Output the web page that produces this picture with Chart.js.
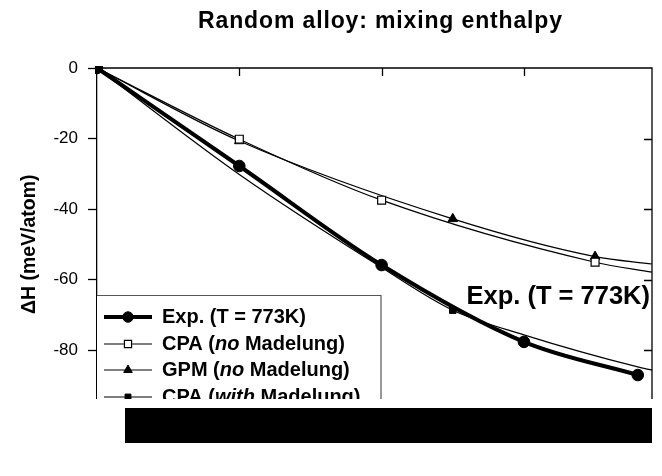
<!DOCTYPE html>
<html><head><meta charset="utf-8">
<script src="https://cdn.jsdelivr.net/npm/chart.js@4.4.1/dist/chart.umd.min.js"></script>
<style>html,body{margin:0;padding:0;background:#fff}#wrap{width:662px;height:476px}</style>
</head><body><div id="wrap"><canvas id="c" width="662" height="476"></canvas></div>
<script>
const titleText = 'Random alloy: mixing enthalpy';
const yAxisTitle = 'ΔH (meV/atom)';
const annotationText = 'Exp. (T = 773K)';
const xTicks = [0, 0.1, 0.2, 0.3];
const yTicks = [0, -20, -40, -60, -80, -100];

const seriesNames = ['Exp. (T = 773K)', 'CPA (no Madelung)', 'GPM (no Madelung)', 'CPA (with Madelung)'];
const legendParts = [
  [['Exp. (T = 773K)', false]],
  [['CPA (', false], ['no', true], [' Madelung)', false]],
  [['GPM (', false], ['no', true], [' Madelung)', false]],
  [['CPA (', false], ['with', true], [' Madelung)', false]]
];

const expX = [0, 0.1, 0.2, 0.3, 0.38];
const expY = [0, -27.8, -55.9, -77.7, -87.1];
const expMarks = [1, 1, 1, 1, 1];

const cpaNoX = [0, 0.1, 0.2, 0.35, 0.39];
const cpaNoY = [0, -20.2, -37.5, -55.1, -57.9];
const cpaNoMarks = [1, 1, 1, 1, 0];

const gpmX = [0, 0.1, 0.25, 0.35, 0.39];
const gpmY = [0, -20.7, -42.8, -53.5, -55.6];
const gpmMarks = [1, 1, 1, 1, 0];

const cpaMadX = [0, 0.1, 0.2, 0.25, 0.3, 0.38, 0.39];
const cpaMadY = [0, -30.2, -56.6, -68.7, -75.7, -84.8, -85.7];
const cpaMadMarks = [1, 0, 0, 1, 0, 0, 0];

const FONT = '"Liberation Sans", Arial, Helvetica, sans-serif';

function pts(xs, ys) { return xs.map((v, i) => ({x: v, y: ys[i]})); }
function radii(m, r) { return m.map(v => v ? r : 0); }

const styles = [
  {pointStyle: 'circle', r: 5.8, fill: '#000', bw: 1, lw: 4},
  {pointStyle: 'rect', r: 5.6, fill: '#fff', bw: 1.2, lw: 1.2},
  {pointStyle: 'triangle', r: 5.5, fill: '#000', bw: 1, lw: 1.2},
  {pointStyle: 'rect', r: 4.6, fill: '#000', bw: 1, lw: 1.2}
];
const xsAll = [expX, cpaNoX, gpmX, cpaMadX];
const ysAll = [expY, cpaNoY, gpmY, cpaMadY];
const marksAll = [expMarks, cpaNoMarks, gpmMarks, cpaMadMarks];

const datasets = seriesNames.map((name, i) => ({
  label: name,
  data: pts(xsAll[i], ysAll[i]),
  borderColor: '#000',
  backgroundColor: styles[i].fill,
  borderWidth: styles[i].lw,
  pointStyle: styles[i].pointStyle,
  pointRadius: radii(marksAll[i], styles[i].r),
  pointBackgroundColor: styles[i].fill,
  pointBorderColor: '#000',
  pointBorderWidth: styles[i].bw,
  cubicInterpolationMode: 'monotone',
  fill: false,
  clip: 2
}));

const framePlugin = {
  id: 'frame',
  afterDraw(chart) {
    const {ctx, chartArea: a, scales: {x, y}} = chart;
    ctx.save();
    ctx.strokeStyle = '#000';
    ctx.lineWidth = 1.3;
    ctx.beginPath();
    ctx.moveTo(a.left, a.top); ctx.lineTo(a.right, a.top); ctx.lineTo(a.right, a.bottom);
    xTicks.forEach(v => { if (v === 0) return; const p = Math.round(x.getPixelForValue(v)) + 0.5; ctx.moveTo(p, a.top); ctx.lineTo(p, a.top + 8); });
    yTicks.forEach(v => { if (v === 0) return; const p = Math.round(y.getPixelForValue(v)) + 0.5; ctx.moveTo(a.right, p); ctx.lineTo(a.right - 8, p); });
    ctx.stroke();

    // title
    ctx.fillStyle = '#000';
    ctx.font = 'bold 23px ' + FONT;
    ctx.textAlign = 'center';
    ctx.textBaseline = 'alphabetic';
    const w = ctx.measureText(titleText).width;
    const target = 364;
    if ('letterSpacing' in ctx) ctx.letterSpacing = Math.max(0, (target - w) / (titleText.length - 1)) + 'px';
    ctx.fillText(titleText, (a.left + a.right) / 2 + 6, 28);
    if ('letterSpacing' in ctx) ctx.letterSpacing = '0px';

    // annotation
    ctx.font = 'bold 25.5px ' + FONT;
    ctx.textAlign = 'right';
    ctx.fillText(annotationText, a.right - 2, y.getPixelForValue(-67.0));

    // legend
    const lx = a.left, ly = a.top + 227, lw = 284;
    ctx.fillStyle = '#fff';
    ctx.fillRect(lx, ly, lw, 140);
    ctx.strokeStyle = '#555';
    ctx.lineWidth = 1.2;
    ctx.beginPath();
    ctx.moveTo(lx, ly + 0.5); ctx.lineTo(lx + lw, ly + 0.5); ctx.lineTo(lx + lw, ly + 140);
    ctx.stroke();
    const rows = [22, 49, 75, 102];
    chart.data.datasets.forEach((ds, i) => {
      const cy = ly + rows[i];
      ctx.strokeStyle = '#000';
      ctx.lineWidth = ds.borderWidth;
      ctx.beginPath(); ctx.moveTo(lx + 7, cy); ctx.lineTo(lx + 55, cy); ctx.stroke();
      ctx.fillStyle = ds.pointBackgroundColor;
      ctx.strokeStyle = '#000';
      ctx.lineWidth = ds.pointBorderWidth;
      Chart.helpers.drawPoint(ctx, {pointStyle: ds.pointStyle, radius: styles[i].r * 0.9, borderWidth: ds.pointBorderWidth, rotation: 0}, lx + 31, cy);
      let tx = lx + 65;
      ctx.fillStyle = '#000';
      ctx.textAlign = 'left';
      ctx.textBaseline = 'middle';
      legendParts[i].forEach(([t, it]) => {
        ctx.font = (it ? 'italic bold ' : 'bold ') + '20px ' + FONT;
        ctx.fillText(t, tx, cy);
        tx += ctx.measureText(t).width;
      });
    });

    // damaged lower region of the reference image
    ctx.fillStyle = '#fff';
    ctx.fillRect(0, 399, chart.width, chart.height - 399);
    ctx.fillStyle = '#000';
    ctx.fillRect(125, 408, 527, 35);
    ctx.restore();
  }
};

new Chart(document.getElementById('c'), {
  type: 'line',
  data: {datasets},
  options: {
    responsive: false,
    devicePixelRatio: 1,
    animation: false,
    events: [],
    layout: {padding: {top: 68, right: 10, left: 0, bottom: 0}},
    plugins: {legend: {display: false}, title: {display: false}, tooltip: {enabled: false}},
    scales: {
      x: {
        type: 'linear', position: 'bottom', min: 0, max: 0.39,
        afterBuildTicks: s => { s.ticks = xTicks.map(v => ({value: v})); },
        ticks: {color: '#000', font: {family: FONT, size: 17}, callback: v => v.toFixed(1)},
        grid: {drawOnChartArea: false, color: '#000', tickLength: 8, tickWidth: 1.3},
        border: {color: '#000', width: 1.3},
        afterFit: s => { s.height = 55.5; }
      },
      y: {
        type: 'linear', position: 'left', min: -100, max: 0,
        afterBuildTicks: s => { s.ticks = yTicks.map(v => ({value: v})); },
        ticks: {color: '#000', font: {family: FONT, size: 17}, padding: 10},
        grid: {drawOnChartArea: false, color: '#000', tickLength: 9, tickWidth: 1.3},
        border: {color: '#000', width: 1.3},
        title: {display: true, text: yAxisTitle, color: '#000', font: {family: FONT, size: 19.5, weight: 'bold'}, padding: {top: 18, bottom: 0}},
        afterFit: s => { s.width = 97; }
      }
    }
  },
  plugins: [framePlugin]
});
</script>
</body></html>
